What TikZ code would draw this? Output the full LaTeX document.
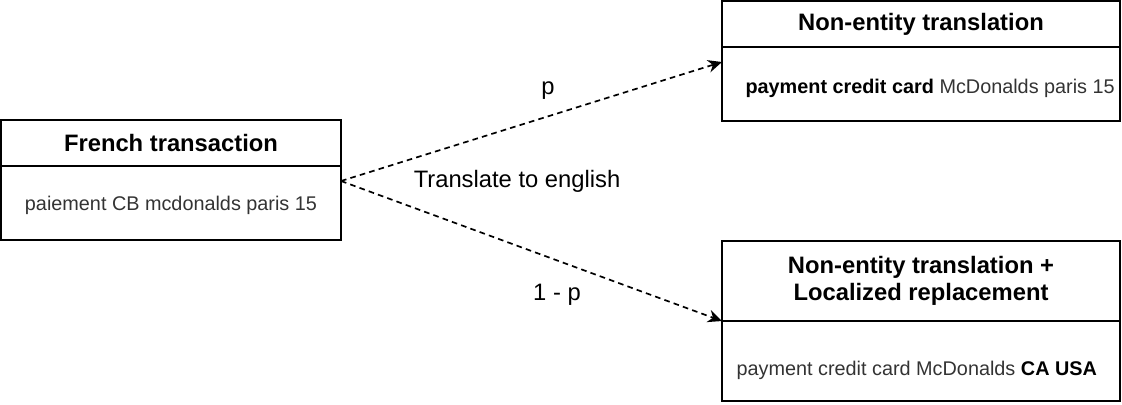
\documentclass[tikz,border=0pt]{standalone}
\usepackage{fontspec}
\setmainfont{Liberation Sans}
\usetikzlibrary{positioning,arrows.meta}

\begin{document}
\begin{tikzpicture}[x=0.025cm,y=-0.025cm,
            font=\fontsize{16.9}{20}\selectfont]
            \tikzstyle{head}=[draw,line width=1.2pt,outer sep=0pt,inner sep=0pt,align=center,font=\bfseries\fontsize{16.9}{19.2}\selectfont]
            \tikzstyle{body}=[draw,line width=1.2pt,outer sep=0pt,inner sep=0pt,text=black!80,font=\fontsize{14.1}{17}\selectfont]
            \tikzstyle{link}=[line width=1.2pt,dash pattern=on 4pt off 3pt,-{Stealth[length=10pt,width=9pt]}]
            \useasboundingbox (0,0) rectangle (1122,404);
            % source
            \node[head,minimum width=8.5cm,minimum height=1.15cm] (fr) at (171,143) {French transaction};
            \node[body,minimum width=8.5cm,minimum height=1.85cm,below=0pt of fr,text height=14pt,text depth=3pt] (frb) {paiement CB mcdonalds paris 15};
            % targets
            \node[head,minimum width=9.95cm,minimum height=1.15cm] (ne) at (921,24) {Non-entity translation};
            \node[body,minimum width=9.95cm,minimum height=1.85cm,below=0pt of ne,text height=17pt,text depth=3pt] (neb) {\hspace*{13pt}\textcolor{black}{\bfseries payment credit card} McDonalds paris 15};
            \node[head,minimum width=9.95cm,minimum height=2cm] (lr) at (921,281) {Non-entity translation +\\Localized replacement};
            \node[body,minimum width=9.95cm,minimum height=2cm,below=0pt of lr,text height=23pt,text depth=3pt] (lrb) {payment credit card McDonalds \textcolor{black}{\bfseries CA USA}\hspace*{6pt}};
            % links
            \coordinate (out) at (341,181);
            \coordinate (in) at (722,62);
            \draw[link] (out) -- (in);
            \draw[link] (out) -- (lrb.north west);
            \node (p) at (548,91) {p};
            \node (q) at (557,295) {1 - p};
            \node (tr) at (517,181) {Translate to english};
\end{tikzpicture}
\end{document}
